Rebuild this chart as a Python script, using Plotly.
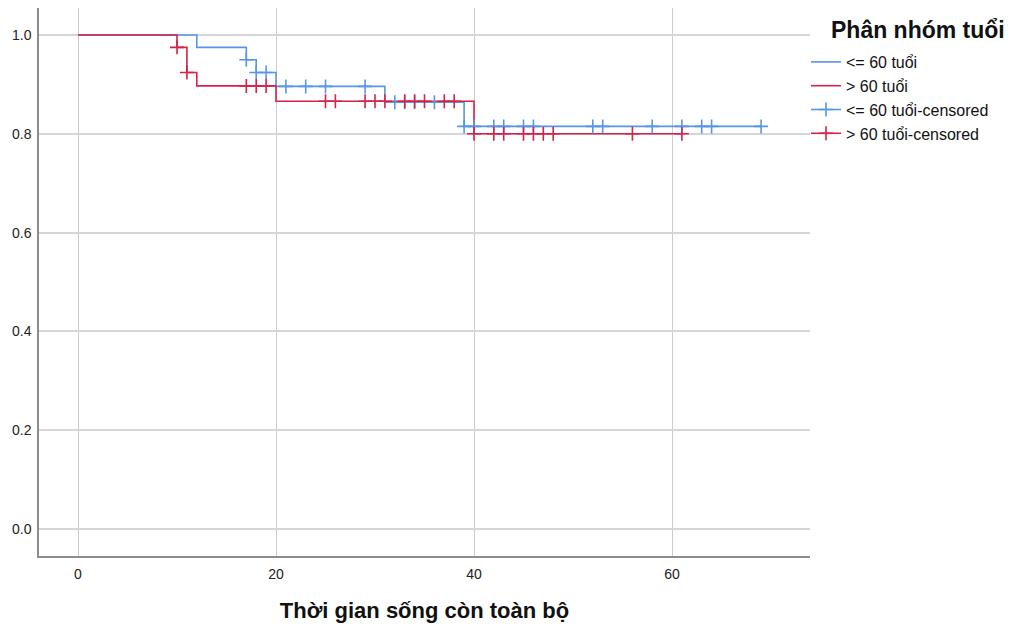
import plotly.graph_objects as go

# ---- data ----
blue_times = [0, 12, 17, 18, 20, 31, 39, 69]
blue_surv = [1.0, 0.975, 0.95, 0.924, 0.896, 0.864, 0.815, 0.815]
red_times = [0, 10, 11, 12, 20, 40, 61]
red_surv = [1.0, 0.975, 0.924, 0.897, 0.866, 0.80, 0.80]

blue_cens_t = [17, 18, 19, 21, 23, 25, 29, 32, 33, 34, 36, 39, 40, 42, 43, 45, 46, 52, 53, 58, 61, 63, 64, 69]
blue_cens_s = [0.95, 0.924, 0.924, 0.896, 0.896, 0.896, 0.896, 0.864, 0.864, 0.864, 0.864,
               0.815, 0.815, 0.815, 0.815, 0.815, 0.815, 0.815, 0.815, 0.815, 0.815, 0.815, 0.815, 0.815]
red_cens_t = [10, 11, 17, 18, 19, 25, 26, 29, 30, 31, 33, 34, 35, 37, 38, 40, 42, 43, 45, 46, 47, 48, 56, 61]
red_cens_s = [0.975, 0.924, 0.897, 0.897, 0.897, 0.866, 0.866, 0.866, 0.866, 0.866, 0.866, 0.866,
              0.866, 0.866, 0.866, 0.80, 0.80, 0.80, 0.80, 0.80, 0.80, 0.80, 0.80, 0.80]

x_ticks = [0, 20, 40, 60]
y_ticks = [0.0, 0.2, 0.4, 0.6, 0.8, 1.0]

BLUE = "rgb(86,150,228)"
RED = "rgb(214,34,72)"
FONT = "Liberation Sans, Arial, sans-serif"

# plot area in pixels
L, R, T, B = 39, 810, 8, 556
W = R - L
H = B - T


def sep(vals):
    out = []
    for v in vals:
        out += [v, None]
    return out


fig = go.Figure()
fig.add_trace(go.Scatter(x=blue_times, y=blue_surv, mode="lines", line=dict(shape="hv", color=BLUE, width=1.6),
                         name="<= 60 tuổi"))
fig.add_trace(go.Scatter(x=red_times, y=red_surv, mode="lines", line=dict(shape="hv", color=RED, width=1.6),
                         name="> 60 tuổi"))
fig.add_trace(go.Scatter(x=sep(blue_cens_t), y=sep(blue_cens_s), mode="lines+markers",
                         line=dict(color=BLUE, width=1.6), connectgaps=False,
                         marker=dict(symbol="cross-thin", size=10, line=dict(color=BLUE, width=1.6)),
                         name="<= 60 tuổi-censored"))
fig.add_trace(go.Scatter(x=sep(red_cens_t), y=sep(red_cens_s), mode="lines+markers",
                         line=dict(color=RED, width=1.6), connectgaps=False,
                         marker=dict(symbol="cross-thin", size=10, line=dict(color=RED, width=1.6)),
                         name="> 60 tuổi-censored"))

fig.update_layout(
    width=1015, height=628,
    margin=dict(l=L, r=1015 - R, t=T, b=628 - B),
    paper_bgcolor="white", plot_bgcolor="white",
    font=dict(family=FONT, size=14, color="#222"),
    showlegend=True,
    legend=dict(x=(806 - L) / W, y=(B - 45) / H, xanchor="left", yanchor="top",
                font=dict(family=FONT, size=16, color="#111"),
                bgcolor="rgba(0,0,0,0)", tracegroupgap=0, itemwidth=30),
    annotations=[dict(text="<b>Phân nhóm tuổi</b>", x=(918 - L) / W, y=(B - 30) / H,
                      xref="paper", yref="paper", xanchor="center", yanchor="middle",
                      showarrow=False, font=dict(family=FONT, size=23, color="#111"))],
)

fig.update_xaxes(range=[-3.94, 73.94], tickvals=x_ticks, ticktext=[str(v) for v in x_ticks],
                 showgrid=True, gridcolor="#cccccc", gridwidth=1, zeroline=False,
                 showline=True, linecolor="#8c8c8c", linewidth=1.5, ticks="", ticklabelstandoff=4,
                 tickfont=dict(family=FONT, size=14, color="#222"),
                 title=dict(text="<b>Thời gian sống còn toàn bộ</b>", font=dict(family=FONT, size=22, color="#111"),
                            standoff=22))
fig.update_yaxes(range=[-0.0547, 1.0547], tickvals=y_ticks, ticktext=[f"{v:.1f}" for v in y_ticks],
                 showgrid=True, gridcolor="#d6d6d6", gridwidth=2, zeroline=False,
                 showline=True, linecolor="#8c8c8c", linewidth=1.5, ticks="", ticklabelstandoff=3,
                 tickfont=dict(family=FONT, size=14, color="#222"))

fig.write_html("out.html")
